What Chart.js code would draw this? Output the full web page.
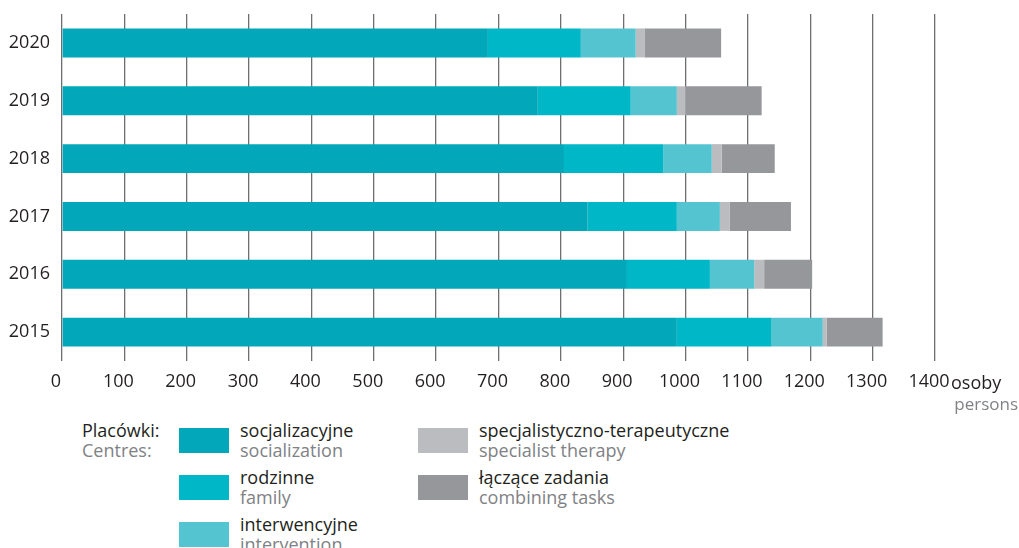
<!DOCTYPE html>
<html>
<head>
<meta charset="utf-8">
<script src="https://cdn.jsdelivr.net/npm/chart.js@4"></script>
<style>
  body { margin: 0; background: #fff; font-family: "Open Sans", sans-serif; }
  #wrap { position: relative; width: 1019px; height: 548px; overflow: hidden; }
  #c { position: absolute; left: 0; top: 0; }
  .t { position: absolute; white-space: nowrap; font-size: 18px; line-height: 20px; color: #231f20; }
  .g { color: #808285; }
  .sw { position: absolute; width: 50px; height: 25px; }
</style>
</head>
<body>
<div id="wrap">
  <canvas id="c" width="1019" height="400"></canvas>
  <div id="legend"></div>
  <div class="t" style="left:951px; top:372px;">osoby</div>
  <div class="t g" style="right:1px; top:394px; font-size:17px;">persons</div>
</div>
<script>
const years = ['2020', '2019', '2018', '2017', '2016', '2015'];
const socjalizacyjne = [683, 763, 805, 843, 906, 986];
const rodzinne = [149, 149, 159, 143, 133, 151];
const interwencyjne = [88, 74, 78, 69, 71, 83];
const specjalistyczne = [14, 14, 16, 16, 16, 6];
const laczace = [123, 122, 85, 98, 77, 90];

const series = [
  { pl: 'socjalizacyjne', en: 'socialization', data: socjalizacyjne, color: '#02a8ba' },
  { pl: 'rodzinne', en: 'family', data: rodzinne, color: '#00b7c7' },
  { pl: 'interwencyjne', en: 'intervention', data: interwencyjne, color: '#54c4d1' },
  { pl: 'specjalistyczno-terapeutyczne', en: 'specialist therapy', data: specjalistyczne, color: '#bbbcbf' },
  { pl: 'łączące zadania', en: 'combining tasks', data: laczace, color: '#96979b' }
];

// legend, html
const legendPos = [
  [179, 428], [179, 475], [179, 522], [418, 428], [418, 475]
];
let html = '<div class="t" style="left:82px; top:420px;">Placówki:</div>' +
           '<div class="t g" style="left:82px; top:440px;">Centres:</div>';
series.forEach((s, i) => {
  const [x, y] = legendPos[i];
  html += `<div class="sw" style="left:${x}px; top:${y}px; background:${s.color};"></div>`;
  html += `<div class="t" style="left:${x + 61}px; top:${y - 8}px;">${s.pl}</div>`;
  html += `<div class="t g" style="left:${x + 61}px; top:${y + 12}px;">${s.en}</div>`;
});
document.getElementById('legend').innerHTML = html;

const ctx = document.getElementById('c').getContext('2d');
new Chart(ctx, {
  type: 'bar',
  data: {
    labels: years,
    datasets: series.map(s => ({
      label: s.pl,
      data: s.data,
      backgroundColor: s.color,
      borderWidth: 0,
      barPercentage: 0.5,
      categoryPercentage: 1
    }))
  },
  options: {
    indexAxis: 'y',
    responsive: false,
    animation: false,
    layout: { padding: { top: 14, right: 84, left: 0, bottom: 0 } },
    plugins: {
      legend: { display: false },
      tooltip: { enabled: false }
    },
    scales: {
      x: {
        stacked: true,
        min: 0,
        max: 1400,
        ticks: {
          stepSize: 100,
          padding: 10,
          labelOffset: -6,
          color: '#231f20',
          font: { family: 'Open Sans', size: 18 },
          callback: v => String(v)
        },
        grid: { color: '#6d6e71', lineWidth: 1.3, drawTicks: false },
        border: { display: false },
        afterFit: scale => { scale.height = 39; scale.paddingLeft = 0; scale.paddingRight = 0; }
      },
      y: {
        stacked: true,
        ticks: {
          padding: 4,
          color: '#231f20',
          font: { family: 'Open Sans', size: 18 }
        },
        grid: { display: false },
        border: { display: false },
        afterFit: scale => { scale.width = 62; scale.paddingTop = 0; scale.paddingBottom = 0; }
      }
    }
  }
});
</script>
</body>
</html>
